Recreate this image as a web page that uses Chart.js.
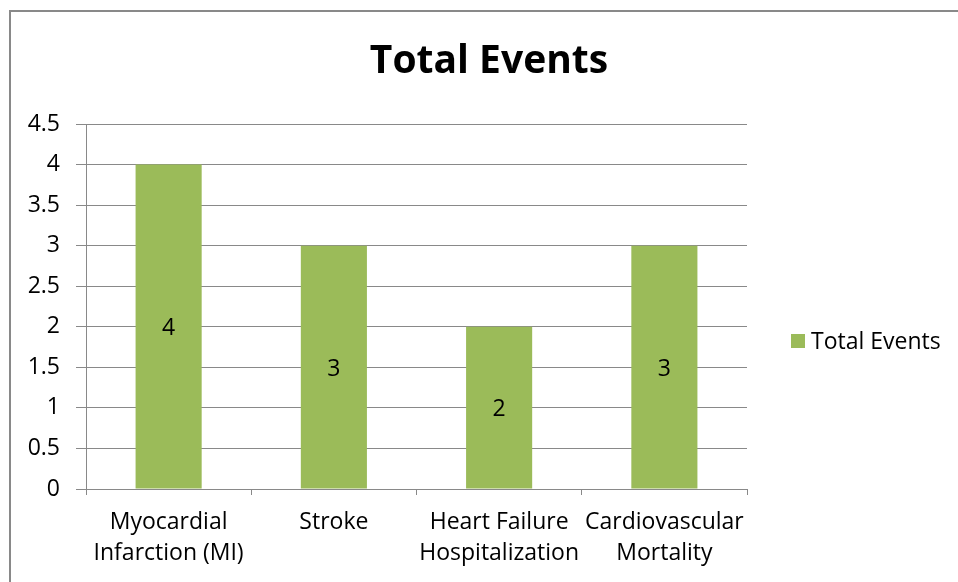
<!DOCTYPE html>
<html>
<head>
<meta charset="utf-8">
<script src="https://cdn.jsdelivr.net/npm/chart.js@4.4.1/dist/chart.umd.min.js"></script>
<style>
  html, body { margin: 0; padding: 0; background: #fff; }
  #wrap { position: relative; width: 958px; height: 582px; overflow: hidden; }
  #frame { position: absolute; left: 9px; top: 10px; width: 1000px; height: 1000px;
           border-left: 2px solid #898989; border-top: 2px solid #898989; pointer-events: none; }
</style>
</head>
<body>
<div id="wrap">
  <canvas id="chart" width="958" height="582"></canvas>
  <div id="frame"></div>
</div>
<script>
const categories = [
  ['Myocardial', 'Infarction (MI)'],
  ['Stroke'],
  ['Heart Failure', 'Hospitalization'],
  ['Cardiovascular', 'Mortality']
];
const totalEvents = [4, 3, 2, 3];
const yTicks = [0, 0.5, 1, 1.5, 2, 2.5, 3, 3.5, 4, 4.5];

const seriesName = 'Total Events';
const barColor = '#9BBB59';
const gridColor = '#898989';
const fontFamily = '"Open Sans", "Noto Sans", sans-serif';
const textSize = 23;

// value labels in the middle of each bar
const barLabels = {
  id: 'barLabels',
  afterDatasetsDraw(chart) {
    const ctx = chart.ctx;
    const meta = chart.getDatasetMeta(0);
    ctx.save();
    ctx.font = textSize + 'px ' + fontFamily;
    ctx.fillStyle = '#000';
    ctx.textAlign = 'center';
    ctx.textBaseline = 'middle';
    meta.data.forEach((bar, i) => {
      ctx.fillText(String(totalEvents[i]), bar.x, (bar.y + bar.base) / 2 + 2);
    });
    ctx.restore();
  }
};

// legend drawn in the space reserved by the blank right axis
const sideLegend = {
  id: 'sideLegend',
  afterDraw(chart) {
    const ctx = chart.ctx;
    const x = chart.chartArea.right + 44;
    const y = 341;
    ctx.save();
    ctx.fillStyle = barColor;
    ctx.fillRect(x, y - 7, 14, 14);
    ctx.font = textSize + 'px ' + fontFamily;
    ctx.fillStyle = '#000';
    ctx.textAlign = 'left';
    ctx.textBaseline = 'middle';
    ctx.fillText(chart.data.datasets[0].label, x + 20, y + 1);
    ctx.restore();
  }
};

new Chart(document.getElementById('chart'), {
  type: 'bar',
  data: {
    labels: categories,
    datasets: [{
      label: seriesName,
      data: totalEvents,
      backgroundColor: barColor,
      borderWidth: 0,
      barPercentage: 0.4,
      categoryPercentage: 1
    }]
  },
  options: {
    responsive: false,
    animation: false,
    devicePixelRatio: 1,
    layout: { padding: { left: 20, right: 0, top: 28, bottom: 1 } },
    scales: {
      x: {
        grid: { display: true, drawOnChartArea: false, drawTicks: true, tickLength: 6, color: gridColor, offset: true },
        border: { display: true, color: gridColor },
        ticks: { color: '#000', padding: 12, maxRotation: 0, autoSkip: false,
                 font: { family: fontFamily, size: textSize, lineHeight: 31 / 23 } }
      },
      y: {
        min: 0,
        max: 4.5,
        afterBuildTicks: scale => { scale.ticks = yTicks.map(v => ({ value: v })); },
        afterFit: scale => { scale.width = 66; },
        grid: { color: gridColor, tickLength: 10 },
        border: { display: true, color: gridColor },
        ticks: { color: '#000', padding: 16, callback: v => String(v),
                 font: { family: fontFamily, size: textSize } }
      },
      y2: {
        position: 'right',
        display: true,
        grid: { display: false, drawTicks: false },
        border: { display: false },
        ticks: { display: false },
        afterFit: scale => { scale.width = 211; }
      }
    },
    plugins: {
      legend: { display: false },
      tooltip: { enabled: false },
      title: {
        display: true,
        text: 'Total Events',
        color: '#000',
        font: { family: fontFamily, size: 39, weight: 'bold', lineHeight: 1.2 },
        padding: { top: 10, bottom: 39.2 }
      }
    }
  },
  plugins: [barLabels, sideLegend]
});
</script>
</body>
</html>
